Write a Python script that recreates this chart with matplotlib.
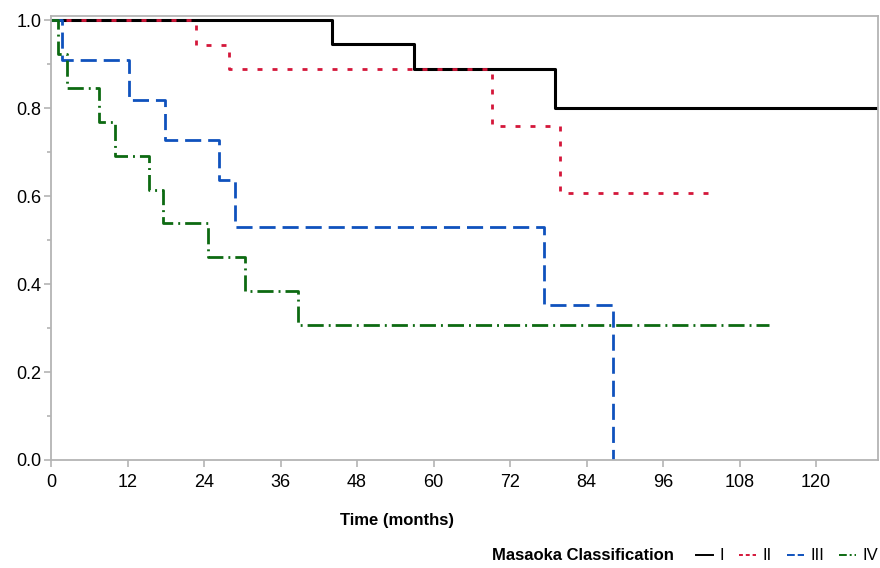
import numpy as np
import matplotlib.pyplot as plt
from matplotlib.lines import Line2D

plt.rcParams['font.family'] = ['Liberation Sans', 'DejaVu Sans']

# Kaplan-Meier steps (time in months, survival)
t_I = [0, 44, 57, 79, 130]
s_I = [1.0, 0.947, 0.889, 0.80, 0.80]

t_II = [0, 22.8, 27.9, 69.2, 79.8, 103]
s_II = [1.0, 0.944, 0.889, 0.76, 0.607, 0.607]

t_III = [0, 1.7, 12.3, 17.9, 26.4, 28.9, 77.3, 88.1, 88.1]
s_III = [1.0, 0.909, 0.818, 0.727, 0.636, 0.53, 0.353, 0.0, 0.0]

t_IV = [0, 1.1, 2.5, 7.6, 10.0, 15.4, 17.6, 24.6, 30.4, 38.7, 112.6]
s_IV = [1.0, 0.923, 0.846, 0.769, 0.692, 0.615, 0.538, 0.462, 0.385, 0.308, 0.308]

groups = ['I', 'II', 'III', 'IV']
colors = ['#000000', '#d4173a', '#0f52bd', '#0d6a12']
styles = ['-', (0, (1.8, 3.6)), (0, (5.8, 2.5)), (0, (5.8, 1.8, 0.7, 1.8))]
widths = [2.2, 2.0, 2.0, 2.0]

fig = plt.figure(figsize=(8.8, 5.68), dpi=100)
ax = fig.add_axes([51 / 880, 1 - 460 / 568, 827 / 880, 444 / 568])

for t, s, c, ls, lw in zip([t_I, t_II, t_III, t_IV], [s_I, s_II, s_III, s_IV],
                           colors, styles, widths):
    ax.plot(t, s, drawstyle='steps-post', color=c, linestyle=ls, linewidth=lw)

ax.set_xlim(0, 129.7)
ax.set_ylim(0, 1.01)
ax.set_xticks(np.arange(0, 121, 12))
ax.set_yticks(np.arange(0, 1.01, 0.2))
ax.set_yticks(np.arange(0.1, 1.0, 0.2), minor=True)
ax.yaxis.set_major_formatter(plt.FormatStrFormatter('%.1f'))

for sp in ax.spines.values():
    sp.set_color('#b4b4b4')
    sp.set_linewidth(1.3)
ax.tick_params(axis='both', which='major', length=5, width=1.2, color='#b4b4b4',
               labelsize=13, pad=2)
ax.tick_params(axis='x', which='major', pad=5)
ax.tick_params(axis='y', which='minor', length=3, width=1.2, color='#b4b4b4')

fig.text(397 / 880, 1 - 520 / 568, 'Time (months)', fontsize=12,
         fontweight='bold', va='center', ha='center')

fig.text(492 / 880, 1 - 556 / 568, 'Masaoka Classification', fontsize=12,
         fontweight='bold', va='center', ha='left')
handles = [Line2D([], [], color=c, linestyle=ls, linewidth=1.4)
           for c, ls in zip(colors, ['-', (0, (2, 1.5)), (0, (4, 1.5)), (0, (4, 1.5, 1, 1.5))])]
fig.legend(handles, groups, loc='center left', bbox_to_anchor=(688 / 880, 1 - 556 / 568),
           ncol=4, frameon=False, fontsize=12, handlelength=1.0, handletextpad=0.4,
           columnspacing=0.9, borderpad=0)

fig.savefig('out.png', dpi=100)
